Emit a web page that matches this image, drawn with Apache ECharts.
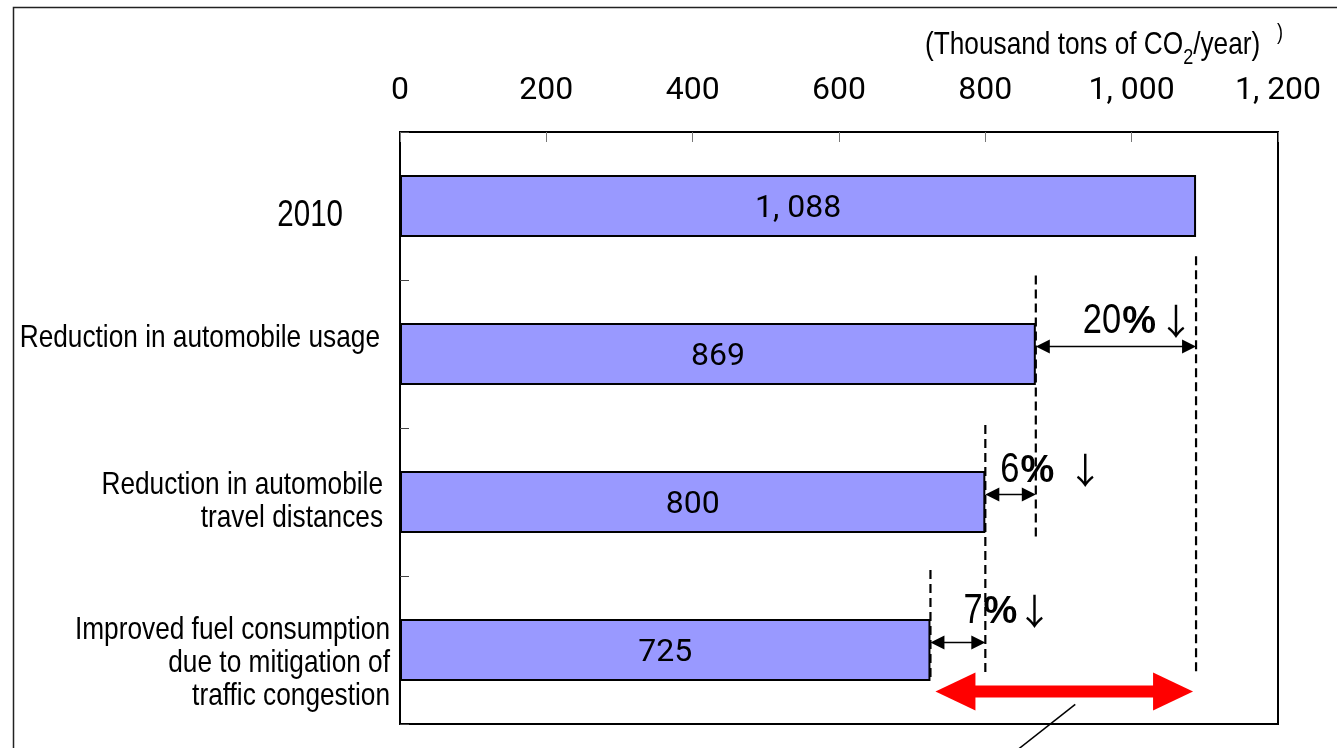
<!DOCTYPE html>
<html>
<head>
<meta charset="utf-8">
<title>CO2 emission reductions</title>
<script src="https://cdn.jsdelivr.net/npm/echarts@6/dist/echarts.min.js"></script>
<style>
  html, body { margin: 0; padding: 0; background: #fff; }
  #chart { width: 1337px; height: 748px; }
</style>
</head>
<body>
<div id="chart"></div>
<script>
// ---- data ----
const categories = [
  '2010',
  'Reduction in automobile usage',
  'Reduction in automobile\ntravel distances',
  'Improved fuel consumption\ndue to mitigation of\ntraffic congestion'
];
const emissions = [1088, 869, 800, 725];      // thousand tons CO2 / year
const reductionPct = [20, 6, 7];              // step-to-step reduction, %
const axisMin = 0, axisMax = 1200, axisStep = 200;
const unitParts = ['(Thousand tons of CO', '2', '/year)'];

// ---- style ----
const SANS = '"Liberation Sans", Arial, sans-serif';
const NARROW_SCALE = 0.82;                    // horizontal squeeze for the narrow face
const DIGITS = 'Roboto, "DejaVu Sans", sans-serif';

function fmtThousands(v) {
  const n = Math.round(v);
  if (n < 1000) return String(n);
  return Math.floor(n / 1000) + ', ' + String(n % 1000).padStart(3, '0');
}

const measureCtx = document.createElement('canvas').getContext('2d');
function textWidth(str, font) {
  measureCtx.font = font;
  return measureCtx.measureText(str).width;
}

// category label placement: font size, gap to axis, vertical shift (px)
const labelLayout = [
  { size: 36, gap: 57, shift: 10 },
  { size: 32, gap: 20, shift: -16 },
  { size: 32, gap: 17, shift: 0 },
  { size: 32, gap: 10, shift: 13 }
];

// dashed guide lines: [bar index, from band, to band]
const guideSpans = [[0, 0.34, 3.17], [1, 0.47, 2.26], [2, 1.48, 3.17], [3, 2.46, 3.2]];

// percentage captions: offset from arrow start, rise above arrow, gap before the down arrow
const stepText = [
  { dx: 47, dy: -25, gap: 20 },
  { dx: 15, dy: -24, gap: 31 },
  { dx: 33, dy: -31, gap: 17 }
];

function doubleArrow(x1, x2, y, o) {
  return [
    { type: 'rect', shape: { x: x1 + o.head * 0.6, y: y - o.shaft / 2, width: x2 - x1 - o.head * 1.2, height: o.shaft },
      style: { fill: o.color } },
    { type: 'polygon', shape: { points: [[x1, y], [x1 + o.head, y - o.half], [x1 + o.head, y + o.half]] },
      style: { fill: o.color } },
    { type: 'polygon', shape: { points: [[x2, y], [x2 - o.head, y - o.half], [x2 - o.head, y + o.half]] },
      style: { fill: o.color } }
  ];
}

const chart = echarts.init(document.getElementById('chart'), null, { renderer: 'canvas' });

chart.setOption({
  animation: false,
  backgroundColor: '#fff',
  graphic: [
    { type: 'rect', x: 13.5, y: 7.5, shape: { x: 0, y: 0, width: 1400, height: 800 },
      style: { fill: 'none', stroke: '#222', lineWidth: 1.5 }, silent: true, z: -10 },
    {
      // unit caption with subscript
      type: 'text', x: 925, y: 45, scaleX: NARROW_SCALE, silent: true,
      style: {
        text: '{t|' + unitParts[0] + '}{s|' + unitParts[1] + '}{t|' + unitParts[2] + '}',
        align: 'left', verticalAlign: 'middle',
        rich: {
          t: { fontFamily: SANS, fontSize: 32, fill: '#000', lineHeight: 48 },
          s: { fontFamily: SANS, fontSize: 22, fill: '#000', lineHeight: 48, verticalAlign: 'bottom' }
        }
      }
    },
    { type: 'text', x: 1277, y: 22, scaleX: NARROW_SCALE, silent: true,
      style: { text: ')', fontFamily: SANS, fontSize: 22, fill: '#000' } }
  ],
  grid: {
    left: 400, right: 59, top: 132, bottom: 24,
    show: true, borderColor: '#000', borderWidth: 2, backgroundColor: '#fff',
    outerBoundsMode: 'none'
  },
  xAxis: {
    type: 'value',
    position: 'top',
    min: axisMin, max: axisMax, interval: axisStep,
    axisLine: { show: true, onZero: false, lineStyle: { color: '#000', width: 2 } },
    axisTick: { show: true, inside: true, length: 10, lineStyle: { color: '#777', width: 1 } },
    splitLine: { show: false },
    axisLabel: {
      margin: 23, fontFamily: DIGITS, fontSize: 32, lineHeight: 36, color: '#000',
      formatter: v => fmtThousands(v)
    }
  },
  yAxis: [
    {
      type: 'category',
      inverse: true,
      data: categories,
      axisLine: { show: true, onZero: false, lineStyle: { color: '#000', width: 2 } },
      axisTick: { show: true, inside: true, length: 9, lineStyle: { color: '#444', width: 1 } },
      splitLine: { show: false },
      axisLabel: { show: false }
    },
    {
      type: 'value', min: -0.5, max: 3.5, inverse: true, show: false
    }
  ],
  series: [
    {
      type: 'bar',
      data: emissions,
      barWidth: 62,
      itemStyle: { color: '#9999FF', borderColor: '#000', borderWidth: 2 },
      label: {
        show: true, position: 'inside', color: '#000',
        fontFamily: DIGITS, fontSize: 32, offset: [0, 3],
        formatter: p => fmtThousands(p.value)
      },
      z: 2
    },
    {
      // category names, set in a narrow face beside the axis
      type: 'custom',
      yAxisIndex: 0,
      z: 4,
      encode: { x: 0, y: 1 },
      data: categories.map((c, i) => [axisMin, i]),
      renderItem: (params, api) => {
        const i = api.value(1);
        const L = labelLayout[i];
        const p = api.coord([axisMin, i]);
        return {
          type: 'text',
          x: p[0] - L.gap,
          y: p[1] + L.shift,
          scaleX: NARROW_SCALE,
          style: {
            text: categories[i],
            align: 'right', verticalAlign: 'middle',
            fontFamily: SANS, fontSize: L.size, lineHeight: 33, fill: '#000'
          }
        };
      }
    },
    {
      // dashed guides dropped from each bar end
      type: 'custom',
      yAxisIndex: 1,
      z: 5,
      encode: { x: 0, y: [1, 2] },
      data: guideSpans.map(([i, a, b]) => [emissions[i], a, b]),
      renderItem: (params, api) => {
        const p = api.coord([api.value(0), api.value(1)]);
        const q = api.coord([api.value(0), api.value(2)]);
        return {
          type: 'line',
          shape: { x1: p[0], y1: p[1], x2: q[0], y2: q[1] },
          style: { stroke: '#000', lineWidth: 2.2, lineDash: [9, 5] }
        };
      }
    },
    {
      // step arrows with percentage captions
      type: 'custom',
      yAxisIndex: 1,
      z: 6,
      encode: { x: [0, 1], y: 2 },
      data: reductionPct.map((pct, i) => [emissions[i + 1], emissions[i], i + 1, pct, i]),
      renderItem: (params, api) => {
        const band = api.value(2) - 0.05;
        const a = api.coord([api.value(0), band]);
        const b = api.coord([api.value(1), band]);
        const L = stepText[api.value(4)];
        const num = String(api.value(3));
        const numFont = '42px ' + SANS;
        const pctFont = 'bold 38px ' + SANS;
        const tx = a[0] + L.dx;
        const ty = a[1] + L.dy;
        const numW = textWidth(num, numFont) * NARROW_SCALE;
        const pctW = textWidth('%', pctFont);
        const children = doubleArrow(a[0], b[0], a[1], { head: 14, half: 7, shaft: 1.5, color: '#000' });
        children.push(
          { type: 'text', x: tx, y: ty, scaleX: NARROW_SCALE,
            style: { text: num, align: 'left', verticalAlign: 'middle', fontFamily: SANS, fontSize: 42, fill: '#000' } },
          { type: 'text', x: tx + numW + 1, y: ty + 1,
            style: { text: '%', align: 'left', verticalAlign: 'middle', fontFamily: SANS, fontSize: 38, fontWeight: 'bold', fill: '#000' } },
          { type: 'text', x: tx + numW + 1 + pctW + L.gap, y: ty,
            style: { text: '↓', align: 'center', verticalAlign: 'middle',
                     fontFamily: '"Noto Sans CJK JP", "DejaVu Sans", sans-serif', fontSize: 36, fill: '#000' } }
        );
        return { type: 'group', children };
      }
    },
    {
      // overall reduction arrow with callout stroke
      type: 'custom',
      yAxisIndex: 1,
      z: 6,
      encode: { x: [0, 1], y: 2 },
      data: [[emissions[emissions.length - 1], emissions[0], 3.28]],
      renderItem: (params, api) => {
        const a = api.coord([api.value(0), api.value(2)]);
        const b = api.coord([api.value(1), api.value(2)]);
        const x1 = a[0] + 5, x2 = b[0] - 3, y = a[1];
        const children = doubleArrow(x1, x2, y, { head: 40, half: 19, shaft: 12, color: '#FF0000' });
        const mid = (x1 + x2) / 2;
        children.push({
          type: 'line',
          shape: { x1: mid + 11, y1: y + 13, x2: mid + 11 - 70, y2: y + 13 + 55 },
          style: { stroke: '#000', lineWidth: 1.5 }
        });
        return { type: 'group', children };
      }
    }
  ]
});
</script>
</body>
</html>
